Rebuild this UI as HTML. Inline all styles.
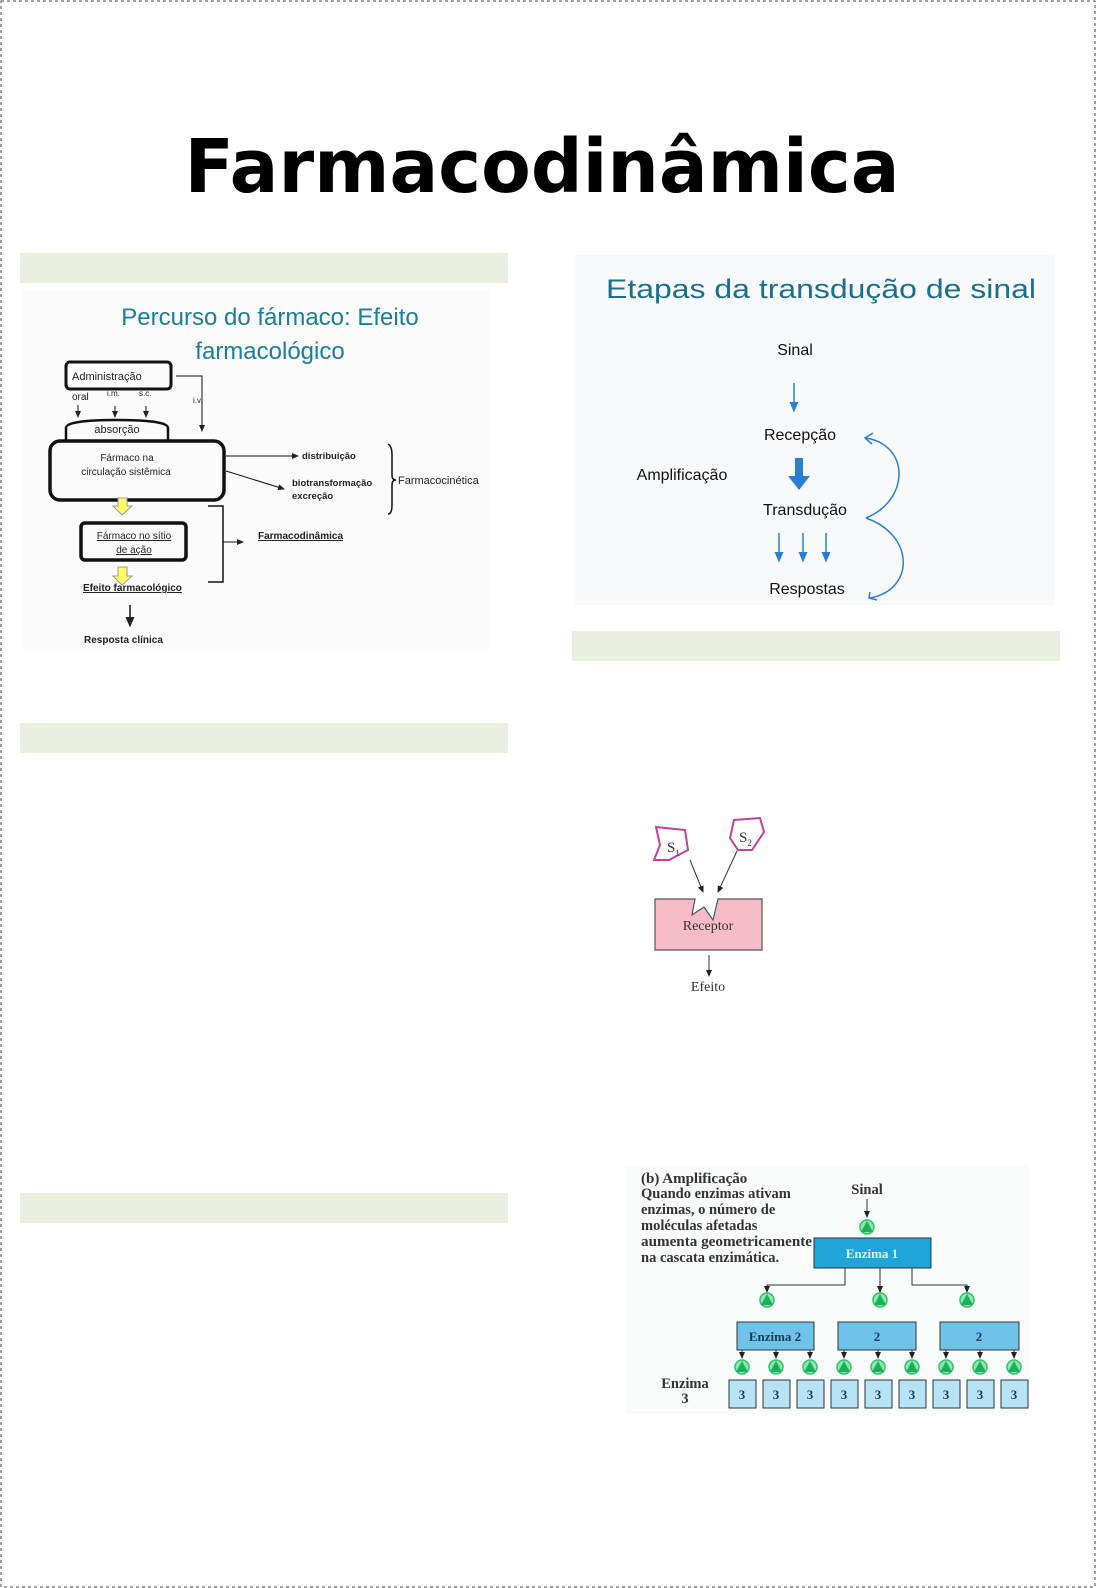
<!DOCTYPE html>
<html><head><meta charset="utf-8"><style>
html,body{margin:0;padding:0;background:#fff}
svg{display:block}
</style></head><body>
<svg width="1096" height="1588" viewBox="0 0 1096 1588" xmlns="http://www.w3.org/2000/svg" font-family="Liberation Sans, sans-serif">
<defs>
<marker id="a" markerWidth="8" markerHeight="8" refX="6" refY="4" orient="auto"><path d="M0,1 L7,4 L0,7 z" fill="#222"/></marker>
<marker id="b" markerWidth="8" markerHeight="8" refX="6" refY="4" orient="auto"><path d="M0,1 L7,4 L0,7 z" fill="#2a7fd0"/></marker>
</defs>
<rect x="1" y="1" width="1094" height="1586" fill="none" stroke="#444" stroke-dasharray="3,3" stroke-width="1"/>
<text x="542" y="192" text-anchor="middle" font-family="DejaVu Sans, sans-serif" font-weight="bold" font-size="74" textLength="715" lengthAdjust="spacingAndGlyphs" fill="#000">Farmacodinâmica</text>
<g fill="#e9f0de">
<rect x="20" y="253" width="488" height="30"/><rect x="572" y="631" width="488" height="30"/>
<rect x="20" y="723" width="488" height="30"/><rect x="20" y="1193" width="488" height="30"/>
</g>
<!-- Left diagram -->
<rect x="22" y="290" width="468" height="360" fill="#fbfbfb"/>
<g fill="#1b7c9c" font-size="24" text-anchor="middle">
<text x="270" y="325">Percurso do fármaco: Efeito</text>
<text x="270" y="359">farmacológico</text>
</g>
<g fill="none" stroke="#111">
<rect x="66" y="362" width="105" height="27" rx="4" stroke-width="3"/>
<polyline points="176,376 202,376 202,431" stroke-width="1" marker-end="url(#a)"/>
<line x1="78" y1="405" x2="78" y2="417" marker-end="url(#a)"/>
<line x1="115" y1="406" x2="115" y2="417" marker-end="url(#a)"/>
<line x1="146" y1="406" x2="146" y2="417" marker-end="url(#a)"/>
<path d="M66,440 L66,428 Q66,420 117,420 Q168,420 168,428 L168,440" stroke-width="2.5"/>
<rect x="50" y="441" width="174" height="59" rx="10" stroke-width="3.5"/>
<line x1="226" y1="456" x2="298" y2="456" marker-end="url(#a)"/>
<line x1="226" y1="471" x2="284" y2="489" marker-end="url(#a)"/>
<path d="M388,444 Q392,446 392,455 L392,475 Q392,480 396,480 Q392,480 392,485 L392,505 Q392,514 388,514" stroke-width="1.5"/>
<rect x="81" y="523" width="105" height="37" rx="4" stroke-width="3.5"/>
<polyline points="208,506 223,506 223,582 208,582" stroke-width="1.5"/>
<line x1="223" y1="542" x2="243" y2="542" marker-end="url(#a)"/>
<line x1="130" y1="605" x2="130" y2="626" stroke-width="1.5" marker-end="url(#a)"/>
</g>
<g fill="#ffff66" stroke="#999" stroke-width="1">
<path d="M118,498 L127,498 L127,506 L132,506 L122,515 L113,506 L118,506 z"/>
<path d="M118,567 L127,567 L127,576 L132,576 L122,585 L113,576 L118,576 z"/>
</g>
<g fill="#222" font-size="10">
<text x="72" y="380" font-size="11">Administração</text>
<text x="72" y="400">oral</text><text x="107" y="396" font-size="8">i.m.</text><text x="139" y="396" font-size="8">s.c.</text>
<text x="193" y="403" font-size="8">i.v.</text>
<text x="117" y="433" text-anchor="middle" font-size="11">absorção</text>
<text x="127" y="461" text-anchor="middle">Fármaco  na</text>
<text x="126" y="475" text-anchor="middle">circulação sistêmica</text>
<text x="302" y="459" font-weight="bold" font-size="9.5">distribuição</text>
<text x="292" y="486" font-weight="bold" font-size="9.5">biotransformação</text>
<text x="292" y="499" font-weight="bold" font-size="9.5">excreção</text>
<text x="398" y="484" font-size="11">Farmacocinética</text>
<text x="134" y="539" text-anchor="middle" text-decoration="underline">Fármaco no sítio</text>
<text x="134" y="553" text-anchor="middle" text-decoration="underline">de ação</text>
<text x="83" y="591" font-weight="bold" text-decoration="underline">Efeito farmacológico</text>
<text x="258" y="539" font-weight="bold" text-decoration="underline">Farmacodinâmica</text>
<text x="84" y="643" font-weight="bold">Resposta clínica</text>
</g>
<!-- Right transduction -->
<rect x="575" y="255" width="480" height="350" fill="#f8f9fb"/>
<text x="821" y="298" text-anchor="middle" font-size="27" fill="#1b6f8c" textLength="430" lengthAdjust="spacingAndGlyphs">Etapas da transdução de sinal</text>
<g font-size="16" fill="#111" text-anchor="middle">
<text x="795" y="355">Sinal</text>
<text x="800" y="440">Recepção</text>
<text x="682" y="480">Amplificação</text>
<text x="805" y="515">Transdução</text>
<text x="807" y="594">Respostas</text>
</g>
<g stroke="#2a7fd0" fill="none" stroke-width="1.5">
<line x1="794" y1="383" x2="794" y2="411" marker-end="url(#b)"/>
<line x1="779" y1="533" x2="779" y2="561" marker-end="url(#b)"/>
<line x1="803" y1="533" x2="803" y2="561" marker-end="url(#b)"/>
<line x1="826" y1="533" x2="826" y2="561" marker-end="url(#b)"/>
<path d="M866,518 C910,500 910,445 866,438"/>
<path d="M866,518 C915,535 915,590 870,598"/>
<path d="M873,433 L865,438 L872,444"/>
<path d="M870,592 L869,598 L877,600"/>
</g>
<path d="M795,458 L803,458 L803,476 L810,476 L799,490 L788,476 L795,476 z" fill="#2a7fd0"/>
<!-- Receptor -->
<g stroke="#c040a0" stroke-width="2" fill="#fff">
<path d="M656,827 L685,830 L688,850 L669,860 L654,860 L660,845 z"/>
<path d="M734,820 L760,818 L764,832 L752,850 L738,850 L730,838 z"/>
</g>
<text x="667" y="852" font-family="Liberation Serif, serif" font-size="15" fill="#333">S<tspan font-size="9" dy="4">1</tspan></text>
<text x="739" y="842" font-family="Liberation Serif, serif" font-size="15" fill="#333">S<tspan font-size="9" dy="4">2</tspan></text>
<g stroke="#333" fill="none">
<line x1="690" y1="860" x2="703" y2="892" marker-end="url(#a)"/>
<line x1="737" y1="851" x2="718" y2="892" marker-end="url(#a)"/>
<line x1="709" y1="955" x2="709" y2="976" marker-end="url(#a)"/>
</g>
<path d="M655,899 L695,899 L692,915 L704,907 L713,920 L718,899 L762,899 L762,950 L655,950 z" fill="#f7bcc8" stroke="#555" stroke-width="1.2"/>
<g font-family="Liberation Serif, serif" fill="#333" text-anchor="middle">
<text x="708" y="930" font-size="14">Receptor</text>
<text x="708" y="991" font-size="14">Efeito</text>
</g>
<!-- Enzymes -->
<rect x="625" y="1165" width="405" height="250" fill="#fafbfb"/>
<g font-family="Liberation Serif, serif" font-weight="bold" fill="#333" font-size="14.5">
<text x="641" y="1183" font-size="15">(b) Amplificação</text>
<text x="641" y="1198">Quando enzimas ativam</text>
<text x="641" y="1214">enzimas, o número de</text>
<text x="641" y="1230">moléculas afetadas</text>
<text x="641" y="1246" textLength="171" lengthAdjust="spacingAndGlyphs">aumenta geometricamente</text>
<text x="641" y="1262">na cascata enzimática.</text>
<text x="867" y="1194" text-anchor="middle">Sinal</text>
<text x="685" y="1388" text-anchor="middle">Enzima</text>
<text x="685" y="1403" text-anchor="middle">3</text>
</g>
<g stroke="#333" fill="none" stroke-width="1">
<line x1="867" y1="1199" x2="867" y2="1217" marker-end="url(#a)"/>
<polyline points="845,1268 845,1285 767,1285 767,1292" marker-end="url(#a)"/>
<line x1="880" y1="1268" x2="880" y2="1292" marker-end="url(#a)"/>
<polyline points="912,1268 912,1285 967,1285 967,1292" marker-end="url(#a)"/>
</g>
<rect x="814" y="1238" width="117" height="30" fill="#1ea6d8" stroke="#333"/>
<text x="872" y="1258" text-anchor="middle" font-family="Liberation Serif, serif" font-weight="bold" font-size="13" fill="#dff4fb">Enzima 1</text>
<g fill="#6fc3ea" stroke="#333">
<rect x="737" y="1322" width="77" height="28"/><rect x="838" y="1322" width="78" height="28"/><rect x="940" y="1322" width="79" height="28"/>
</g>
<g font-family="Liberation Serif, serif" font-weight="bold" font-size="13" fill="#1b3a55" text-anchor="middle">
<text x="775" y="1341">Enzima 2</text><text x="877" y="1341">2</text><text x="979" y="1341">2</text>
</g>
<g stroke="#333">
<line x1="742" y1="1350" x2="742" y2="1358" marker-end="url(#a)"/><line x1="776" y1="1350" x2="776" y2="1358" marker-end="url(#a)"/><line x1="810" y1="1350" x2="810" y2="1358" marker-end="url(#a)"/>
<line x1="844" y1="1350" x2="844" y2="1358" marker-end="url(#a)"/><line x1="878" y1="1350" x2="878" y2="1358" marker-end="url(#a)"/><line x1="912" y1="1350" x2="912" y2="1358" marker-end="url(#a)"/>
<line x1="946" y1="1350" x2="946" y2="1358" marker-end="url(#a)"/><line x1="980" y1="1350" x2="980" y2="1358" marker-end="url(#a)"/><line x1="1014" y1="1350" x2="1014" y2="1358" marker-end="url(#a)"/>
</g>
<g fill="#8ee8b0" stroke="#2cc36b" stroke-width="1.5">
<circle cx="867" cy="1227" r="7"/><circle cx="767" cy="1300" r="7"/><circle cx="880" cy="1300" r="7"/><circle cx="967" cy="1300" r="7"/>
<circle cx="742" cy="1367" r="7"/><circle cx="776" cy="1367" r="7"/><circle cx="810" cy="1367" r="7"/>
<circle cx="844" cy="1367" r="7"/><circle cx="878" cy="1367" r="7"/><circle cx="912" cy="1367" r="7"/>
<circle cx="946" cy="1367" r="7"/><circle cx="980" cy="1367" r="7"/><circle cx="1014" cy="1367" r="7"/>
</g>
<g fill="#1fae5a">
<path d="M867,1221 L873,1232 L861,1232 z"/><path d="M767,1294 L773,1305 L761,1305 z"/><path d="M880,1294 L886,1305 L874,1305 z"/><path d="M967,1294 L973,1305 L961,1305 z"/>
<path d="M742,1361 L748,1372 L736,1372 z"/><path d="M776,1361 L782,1372 L770,1372 z"/><path d="M810,1361 L816,1372 L804,1372 z"/>
<path d="M844,1361 L850,1372 L838,1372 z"/><path d="M878,1361 L884,1372 L872,1372 z"/><path d="M912,1361 L918,1372 L906,1372 z"/>
<path d="M946,1361 L952,1372 L940,1372 z"/><path d="M980,1361 L986,1372 L974,1372 z"/><path d="M1014,1361 L1020,1372 L1008,1372 z"/>
</g>
<g fill="#b6e3f5" stroke="#333">
<rect x="729" y="1380" width="27" height="28"/><rect x="763" y="1380" width="27" height="28"/><rect x="797" y="1380" width="27" height="28"/>
<rect x="831" y="1380" width="27" height="28"/><rect x="865" y="1380" width="27" height="28"/><rect x="899" y="1380" width="27" height="28"/>
<rect x="933" y="1380" width="27" height="28"/><rect x="967" y="1380" width="27" height="28"/><rect x="1001" y="1380" width="27" height="28"/>
</g>
<g font-family="Liberation Serif, serif" font-weight="bold" font-size="13" fill="#1b3a55" text-anchor="middle">
<text x="742" y="1399">3</text><text x="776" y="1399">3</text><text x="810" y="1399">3</text><text x="844" y="1399">3</text><text x="878" y="1399">3</text><text x="912" y="1399">3</text><text x="946" y="1399">3</text><text x="980" y="1399">3</text><text x="1014" y="1399">3</text>
</g>
</svg>
</body></html>
